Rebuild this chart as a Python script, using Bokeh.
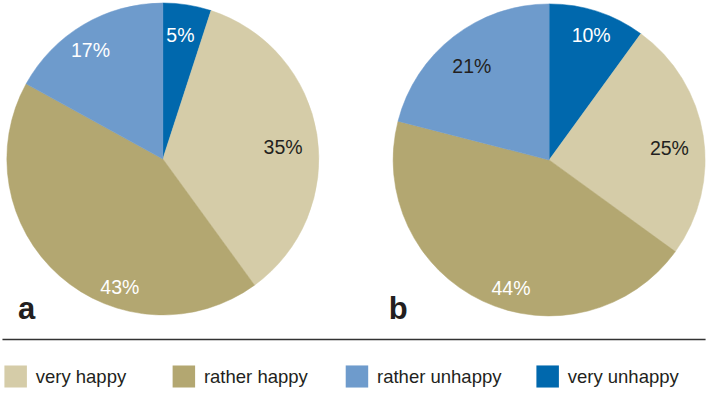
import math
from bokeh.plotting import figure
from bokeh.models import Range1d, ColumnDataSource
from bokeh.embed import file_html
from bokeh.resources import INLINE
from bokeh.core.properties import value

# ---- data ----
categories = ["very happy", "rather happy", "rather unhappy", "very unhappy"]
panel_names = ["a", "b"]
shares_a = [35, 43, 17, 5]
shares_b = [25, 44, 21, 10]

# ---- style ----
colors = ["#D5CCA8", "#B3A771", "#6E9BCC", "#0068AD"]
label_colors_a = ["#231f20", "white", "white", "white"]
label_colors_b = ["#231f20", "white", "#231f20", "white"]
# label offsets from pie centre (reference px, y down)
label_off_a = [(123, -12), (-44, 133), (-74, -113), (18, -129)]
label_off_b = [(123, -12), (-39, 133), (-79, -98), (43, -130)]
clock_order = [3, 0, 1, 2]  # clockwise from 12 o'clock
FONT = "Liberation Sans"
DARK = "#231f20"

W, H = 709, 388
# data coordinates = reference picture pixels (725 x 404), y pointing down -> negative
p = figure(width=W, height=H, x_range=Range1d(0, 725), y_range=Range1d(-404, 0),
           output_backend="svg", toolbar_location=None, min_border=0)
p.axis.visible = False
p.grid.visible = False
p.outline_line_color = None
p.background_fill_color = "white"
p.border_fill_color = "white"

centers = [(166, -165), (561, -166)]
R = 156  # screen px

panels = [(shares_a, label_colors_a, label_off_a), (shares_b, label_colors_b, label_off_b)]
for (cx, cy), (shares, lcols, loffs) in zip(centers, panels):
    total = float(sum(shares))
    starts, ends, cols = [], [], []
    cum = 0.0
    for i in clock_order:
        c0 = cum
        c1 = cum + shares[i] / total
        cum = c1
        starts.append(math.pi / 2 - 2 * math.pi * c1)
        ends.append(math.pi / 2 - 2 * math.pi * c0)
        cols.append(colors[i])
    src = ColumnDataSource(dict(x=[cx] * 4, y=[cy] * 4, s=starts, e=ends, c=cols))
    p.wedge(x="x", y="y", radius=R, radius_units="screen", start_angle="s", end_angle="e",
            fill_color="c", line_color="c", line_width=0.5, source=src)
    lsrc = ColumnDataSource(dict(
        x=[cx + dx for dx, dy in loffs],
        y=[cy - dy for dx, dy in loffs],
        t=[f"{v}%" for v in shares],
        c=lcols))
    p.text(x="x", y="y", text="t", text_color="c", text_align="center",
           text_baseline="middle", text_font=value(FONT), text_font_size="19.5px", source=lsrc)

# panel letters
p.text(x=[18, 397], y=[-321, -321], text=panel_names, text_align="left",
       text_baseline="alphabetic", text_font=value(FONT), text_font_style="bold",
       text_font_size="31px", text_color=DARK)

# separator line
p.segment(x0=[2], y0=[-353], x1=[721], y1=[-353], line_color="#333333", line_width=1.6)

# legend
legend_x = [4, 176, 353, 548]
sq_w, sq_top, sq_bot = 23, -380, -403
p.quad(left=legend_x, right=[x + sq_w for x in legend_x], top=[sq_top] * 4, bottom=[sq_bot] * 4,
       fill_color=colors, line_color=None)
p.text(x=[x + sq_w + 9 for x in legend_x], y=[-391] * 4, text=categories, text_align="left",
       text_baseline="middle", text_font=value(FONT), text_font_size="18.5px", text_color=DARK)

open("out.html", "w").write(file_html(p, INLINE))
